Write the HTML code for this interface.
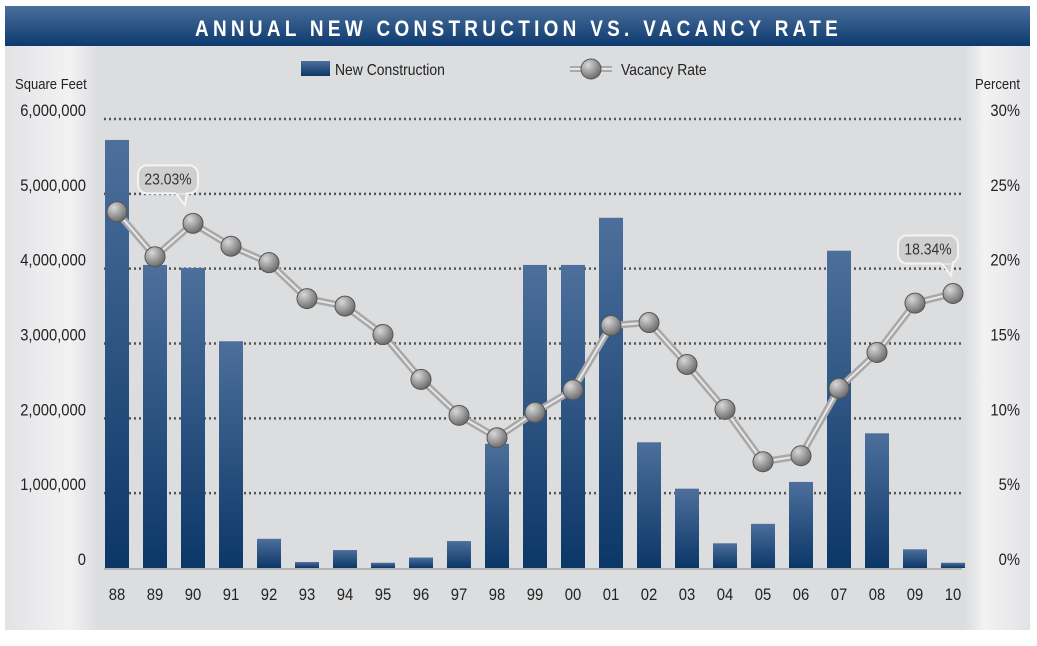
<!DOCTYPE html>
<html><head><meta charset="utf-8"><style>
html,body{margin:0;padding:0;background:#fff;}
svg text{font-family:"Liberation Sans",sans-serif;}
</style></head><body>
<svg id="chart" width="1037" height="641" viewBox="0 0 1037 641" xmlns="http://www.w3.org/2000/svg">
<defs>
<linearGradient id="hdr" x1="0" y1="0" x2="0" y2="1"><stop offset="0" stop-color="#4a6f9c"/><stop offset="1" stop-color="#0d3a6e"/></linearGradient>
<linearGradient id="bar" x1="0" y1="0" x2="0" y2="1"><stop offset="0" stop-color="#4d6f9c"/><stop offset="1" stop-color="#0b3767"/></linearGradient>
<linearGradient id="lside" x1="0" y1="0" x2="1" y2="0"><stop offset="0" stop-color="#e2e3e5"/><stop offset="0.7" stop-color="#f2f2f3"/><stop offset="1" stop-color="#dcdddf"/></linearGradient>
<linearGradient id="rside" x1="0" y1="0" x2="1" y2="0"><stop offset="0" stop-color="#dcdddf"/><stop offset="0.3" stop-color="#f2f2f3"/><stop offset="1" stop-color="#e2e3e5"/></linearGradient>
<radialGradient id="dot" cx="0.35" cy="0.3" r="0.7"><stop offset="0" stop-color="#d8d8d8"/><stop offset="1" stop-color="#6e6e6e"/></radialGradient>
</defs>
<rect x="5" y="45" width="1025" height="585" fill="#dcdddf"/>
<rect x="5" y="45" width="93" height="585" fill="url(#lside)"/>
<rect x="965" y="45" width="65" height="585" fill="url(#rside)"/>
<rect x="5" y="6" width="1025" height="40" fill="url(#hdr)"/>
<text id="title" x="195" y="36" font-size="22" font-weight="bold" fill="#fff">ANNUAL NEW CONSTRUCTION VS. VACANCY RATE</text>
<text class="n" x="15" y="89" font-size="15" fill="#222">Square Feet</text>
<text class="n r" x="1020" y="89" font-size="15" fill="#222" text-anchor="end">Percent</text>
<g>
<rect x="301" y="61" width="29" height="15" fill="url(#bar)"/>
<text class="n" x="335" y="75" font-size="16" fill="#222">New Construction</text>
<line x1="570" y1="69" x2="612" y2="69" stroke="#aaa" stroke-width="6"/>
<line x1="570" y1="69" x2="612" y2="69" stroke="#e6e6e6" stroke-width="2"/>
<circle cx="591" cy="69" r="10" fill="url(#dot)" stroke="#555" stroke-width="1"/>
<text class="n" x="621" y="75" font-size="16" fill="#222">Vacancy Rate</text>
</g>
<g id="grid"></g><g id="bars"></g><g id="line"></g><g id="labels"></g>
</svg>
<script>
const categories=["88","89","90","91","92","93","94","95","96","97","98","99","00","01","02","03","04","05","06","07","08","09","10"];
const construction=[5720000,4050000,4010000,3030000,390000,80000,240000,70000,140000,360000,1660000,4050000,4050000,4680000,1680000,1060000,330000,590000,1150000,4240000,1800000,250000,70000];
const vacancy=[23.8,20.8,23.03,21.5,20.4,18.0,17.5,15.6,12.6,10.2,8.7,10.4,11.9,16.2,16.4,13.6,10.6,7.1,7.5,12.0,14.4,17.7,18.34];
const leftTicks=[0,1000000,2000000,3000000,4000000,5000000,6000000];
const leftTickLabels=["0","1,000,000","2,000,000","3,000,000","4,000,000","5,000,000","6,000,000"];
const rightTicks=[0,5,10,15,20,25,30];
const rightTickLabels=["0%","5%","10%","15%","20%","25%","30%"];
const callouts=[2,22];
const NS="http://www.w3.org/2000/svg";
const y0=568,yTop=119;
const yL=v=>y0-(v/6000000)*(y0-yTop);
const yR=v=>y0-(v/30)*(y0-yTop);
const xC=i=>117+i*(953-117)/(categories.length-1);
function mk(tag,attrs,parent,txt){const e=document.createElementNS(NS,tag);for(const k in attrs)e.setAttribute(k,attrs[k]);if(txt!==undefined)e.textContent=txt;document.getElementById(parent).appendChild(e);return e;}
leftTicks.forEach((t,i)=>{
  const y=yL(t);
  if(t>0){const l=mk("line",{x1:104,x2:962,y1:y,y2:y,stroke:"#555","stroke-width":2.5,"stroke-dasharray":"2 3"},"grid");
  
  }
  const tx=mk("text",{x:86,y:y-3,"font-size":17,fill:"#222","text-anchor":"end","class":"n"},"labels",leftTickLabels[i]);
  
  
});
rightTicks.forEach((t,i)=>{
  const tx=mk("text",{x:1020,y:yR(t)-3,"font-size":17,fill:"#222","text-anchor":"end","class":"n"},"labels",rightTickLabels[i]);
  
  
});
const bl=mk("line",{x1:104,x2:962,y1:y0+1,y2:y0+1,stroke:"#888","stroke-width":1},"grid");


categories.forEach((c,i)=>{
  const x=xC(i),y=yL(construction[i]);
  const r=mk("rect",{x:x-12,y:y,width:24,height:y0-y,fill:"url(#bar)"},"bars");
  
  
  const t=mk("text",{x:x,y:600,"font-size":17,fill:"#222","text-anchor":"middle","class":"n"},"labels",c);
  
  
});
const pts=vacancy.map((v,i)=>xC(i)+","+yR(v)).join(" ");
const p1=mk("polyline",{points:pts,fill:"none",stroke:"#a8a8a8","stroke-width":7,"stroke-linejoin":"round"},"line");


const p2=mk("polyline",{points:pts,fill:"none",stroke:"#e8e8e8","stroke-width":2,"stroke-linejoin":"round"},"line");


vacancy.forEach((v,i)=>{
  const c=mk("circle",{cx:xC(i),cy:yR(v),r:10,fill:"url(#dot)",stroke:"#555","stroke-width":1},"line");
  
  
});
callouts.forEach(i=>{
  const x=xC(i),y=yR(vacancy[i]);
  const w=60,h=28;
  const bx=x-55,by=y-58;
  const tipX=i===2?x-8:x-2;
  const baseX=i===2?x-18:x-12;
  const tail=mk("path",{d:`M${baseX},${by+h-1} L${tipX},${by+h+12} L${baseX+12},${by+h-1}Z`,fill:"#cfcfcf",stroke:"#f4f4f4","stroke-width":2},"line");
  
  
  const g=mk("rect",{x:bx,y:by,width:w,height:h,rx:9,fill:"#cfcfcf",stroke:"#f4f4f4","stroke-width":2},"line");
  
  
  const cover=mk("rect",{x:baseX+1,y:by+h-4,width:10,height:4,fill:"#cfcfcf"},"line");
  
  
  const t=mk("text",{x:bx+w/2,y:by+19,"font-size":16,fill:"#333","text-anchor":"middle","class":"n"},"line",vacancy[i].toFixed(2)+"%");
  
  
});
document.querySelectorAll("text.n").forEach(t=>{
  const L=t.getComputedTextLength();
  if(L>0){t.setAttribute("textLength",(L*0.87).toFixed(1));t.setAttribute("lengthAdjust","spacingAndGlyphs");}
});
const ti=document.getElementById("title");
const TL=ti.getComputedTextLength();
ti.setAttribute("textLength",(TL*0.86).toFixed(1));
ti.setAttribute("lengthAdjust","spacingAndGlyphs");
ti.setAttribute("letter-spacing",((643-TL*0.86)/39).toFixed(2));
ti.removeAttribute("textLength");
ti.setAttribute("transform","translate(195,0) scale(0.86,1) translate(-195,0)");
ti.setAttribute("letter-spacing",((643/0.86-TL)/39).toFixed(2));
</script>
</body></html>
